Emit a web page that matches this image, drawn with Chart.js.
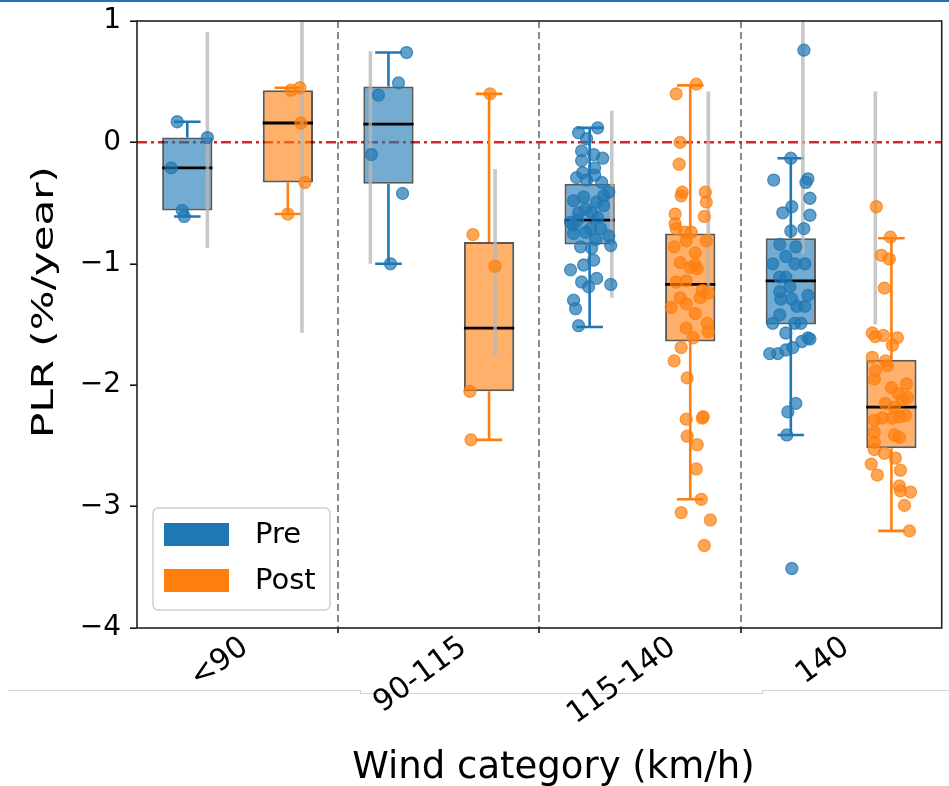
<!DOCTYPE html>
<html>
<head>
<meta charset="utf-8">
<script src="https://cdn.jsdelivr.net/npm/chart.js@4.4.1/dist/chart.umd.min.js"></script>
<style>
  html, body { margin: 0; padding: 0; background: #fff; }
  #wrap { position: relative; width: 949px; height: 786px; overflow: hidden; }
  #topline { position: absolute; left: 0; top: 0; width: 949px; height: 2px; background: #1c75bc; }
  .seam { position: absolute; background: #d4d4d4; }
  canvas { position: absolute; left: 0; top: 0; }
</style>
</head>
<body>
<div id="wrap">
  <div id="topline"></div>
  <div class="seam" style="left:8px;top:690px;width:352px;height:1px"></div>
  <div class="seam" style="left:360px;top:690px;width:1px;height:4px"></div>
  <div class="seam" style="left:360px;top:693px;width:402px;height:1px"></div>
  <div class="seam" style="left:762px;top:690px;width:1px;height:4px"></div>
  <div class="seam" style="left:762px;top:690px;width:187px;height:1px"></div>
  <canvas id="plr" width="949" height="786" style="width:949px;height:786px"></canvas>
</div>
<script>
const categories = ['<90', '90-115', '115-140', '140'];
const groups = ['Pre', 'Post'];
const yTicks = [1, 0, -1, -2, -3, -4];
const separators = [0.5, 1.5, 2.5];
const xTitle = 'Wind category (km/h)';
const yTitle = 'PLR (%/year)';

// box statistics
const preLow = [-0.61, -1.00, -1.52, -2.41];
const preQ1 = [-0.56, -0.34, -0.84, -1.50];
const preMedian = [-0.21, 0.15, -0.64, -1.14];
const preQ3 = [0.04, 0.46, -0.34, -0.79];
const preHigh = [0.17, 0.74, 0.12, -0.13];

const postLow = [-0.59, -2.45, -2.94, -3.20];
const postQ1 = [-0.33, -2.05, -1.64, -2.52];
const postMedian = [0.16, -1.53, -1.17, -2.18];
const postQ3 = [0.43, -0.82, -0.75, -1.79];
const postHigh = [0.45, 0.40, 0.47, -0.79];

// grey range bars drawn next to each box
const preRangeLow = [-0.87, -1.00, -1.28, -0.92];
const preRangeHigh = [0.91, 0.75, 0.26, 1.10];
const preRangeShift = [0.10, -0.09, 0.11, 0.06];
const postRangeLow = [-1.57, -1.76, -1.18, -1.50];
const postRangeHigh = [1.10, -0.22, 0.42, 0.42];
const postRangeShift = [0.07, 0.03, 0.09, -0.08];

// single sites, value and horizontal jitter
const preValues = [
  [0.17, 0.04, -0.21, -0.56, -0.61],
  [0.74, 0.49, 0.39, -0.10, -0.42, -1.00],
  [0.12, 0.08, 0.03, -0.07, -0.10, -0.13, -0.15, -0.21, -0.25, -0.27, -0.29, -0.33, -0.31, -0.41, -0.44,
   -0.48, -0.49, -0.52, -0.58, -0.58, -0.66, -0.68, -0.71, -0.71, -0.74, -0.75, -0.77, -0.85, -0.86, -0.87,
   -0.97, -1.01, -1.05, -1.12, -1.15, -1.17, -1.19, -1.30, -1.37, -1.51, -0.55, -0.62, -0.45, -0.80, -0.64],
  [0.76, -0.13, -0.31, -0.30, -0.33, -0.46, -0.53, -0.58, -0.60, -0.71, -0.73, -0.84, -0.86, -0.94, -1.00,
   -1.00, -1.00, -1.11, -1.11, -1.19, -1.23, -1.29, -1.29, -1.26, -1.35, -1.35, -1.42, -1.49, -1.49, -1.49,
   -1.57, -1.61, -1.74, -1.74, -1.71, -1.69, -1.64, -1.62, -2.22, -2.15, -2.41, -3.51]
];
const preJitter = [
  [-0.05, 0.10, -0.08, -0.025, -0.015],
  [0.09, 0.05, -0.05, -0.085, 0.07, 0.01],
  [0.04, -0.055, -0.015, -0.04, 0.02, 0.065, -0.04, 0.025, -0.035, 0.025, -0.065, 0.06, -0.015, 0.095, 0.07,
   -0.08, 0.035, 0.07, -0.055, 0.01, -0.095, -0.08, 0.055, 0.005, -0.02, -0.08, 0.095, 0.105, -0.045, 0.01,
   0.02, -0.03, -0.095, 0.035, -0.04, 0.105, -0.005, -0.08, -0.07, -0.055, -0.02, 0.04, -0.03, 0.03, -0.06],
  [0.065, 0, -0.085, 0.085, 0.075, 0.095, 0.005, -0.04, 0.095, 0.065, 0, -0.055, 0.025, -0.025, -0.09,
   0.02, 0.07, -0.055, -0.025, -0.005, -0.055, -0.05, 0.005, 0.085, 0.03, 0.07, -0.055, -0.09, 0.02, 0.05,
   -0.025, 0.085, -0.105, -0.065, -0.025, 0.01, 0.055, 0.095, -0.015, 0.025, -0.02, 0.005]
];
const postValues = [
  [0.43, 0.45, 0.16, -0.33, -0.59],
  [0.40, -0.76, -1.02, -2.05, -2.45],
  [0.48, 0.40, 0.00, -0.18, -0.41, -0.44, -0.41, -0.49, -0.61, -0.59, -0.67, -0.71, -0.74, -0.74, -0.81,
   -0.81, -0.86, -0.91, -0.99, -1.03, -1.01, -1.04, -1.15, -1.14, -1.22, -1.24, -1.28, -1.36, -1.33, -1.28,
   -1.41, -1.53, -1.49, -1.56, -1.61, -1.69, -1.80, -1.94, -2.28, -2.26, -2.27, -2.42, -2.49, -2.69, -2.94,
   -3.05, -3.11, -3.32],
  [-0.53, -0.78, -0.93, -0.96, -1.20, -1.57, -1.60, -1.59, -1.61, -1.67, -1.77, -1.80, -1.88, -1.84, -1.95,
   -1.99, -2.02, -2.07, -2.10, -2.15, -2.12, -2.18, -2.25, -2.29, -2.27, -2.27, -2.26, -2.39, -2.47, -2.41,
   -2.43, -2.53, -2.56, -2.60, -2.65, -2.74, -2.70, -2.83, -2.87, -2.88, -2.99, -3.20]
];
const postJitter = [
  [0.015, 0.06, 0.065, 0.085, 0],
  [0.005, -0.08, 0.03, -0.095, -0.09],
  [0.03, -0.07, -0.05, -0.055, -0.04, -0.045, 0.075, 0.08, 0.07, -0.075, -0.075, -0.07, -0.025, 0.005, -0.02,
   0.08, -0.08, 0.025, -0.05, 0, 0.025, 0.035, -0.07, -0.02, 0.06, 0.09, -0.05, -0.095, -0.02, 0.05,
   0.025, -0.02, 0.085, 0.09, 0.015, -0.045, -0.08, -0.015, -0.02, 0.065, 0.06, -0.015, 0.035, 0.03, 0.055,
   -0.045, 0.1, 0.07],
  [-0.075, -0.005, -0.05, -0.01, -0.035, -0.095, -0.08, -0.04, 0.03, 0.005, -0.095, -0.03, -0.08, -0.02, -0.085,
   0.075, 0, 0.035, 0.08, -0.03, 0.055, 0.015, 0.07, -0.085, -0.045, 0.005, 0.04, -0.085, -0.085, 0.015,
   0.04, -0.085, -0.035, 0.02, -0.1, -0.07, 0.045, 0.04, 0.045, 0.095, 0.065, 0.09]
];

const FONT = '"DejaVu Sans", "Liberation Sans", sans-serif';
const rgb = ['31,119,180', '255,127,14'];
const groupOffset = [-0.25, 0.25];
const boxHalf = 0.125;
const capHalf = 0.066;
const labelShift = -0.09;

const stats = [
  { low: preLow, q1: preQ1, med: preMedian, q3: preQ3, high: preHigh,
    rLow: preRangeLow, rHigh: preRangeHigh, rShift: preRangeShift, vals: preValues, jit: preJitter },
  { low: postLow, q1: postQ1, med: postMedian, q3: postQ3, high: postHigh,
    rLow: postRangeLow, rHigh: postRangeHigh, rShift: postRangeShift, vals: postValues, jit: postJitter }
];

const gap = x => ({ x, y: null });

const datasets = [];
stats.forEach((s, g) => {
  const pos = i => i + groupOffset[g];

  datasets.push({
    type: 'bar', label: groups[g], order: 5,
    data: categories.map((c, i) => ({ x: pos(i), y: [s.q1[i], s.q3[i]] })),
    backgroundColor: `rgba(${rgb[g]},0.62)`,
    borderColor: 'rgba(0,0,0,0.65)', borderWidth: 2, borderSkipped: false,
    grouped: false, barPercentage: 0.5, categoryPercentage: 1
  });

  const whisk = [];
  categories.forEach((c, i) => {
    const x = pos(i);
    whisk.push({ x, y: s.q3[i] }, { x, y: s.high[i] }, gap(x));
    whisk.push({ x: x - capHalf, y: s.high[i] }, { x: x + capHalf, y: s.high[i] }, gap(x));
    whisk.push({ x, y: s.q1[i] }, { x, y: s.low[i] }, gap(x));
    whisk.push({ x: x - capHalf, y: s.low[i] }, { x: x + capHalf, y: s.low[i] }, gap(x));
  });
  datasets.push({
    type: 'line', order: 4, data: whisk, borderColor: `rgb(${rgb[g]})`, borderWidth: 2.6,
    pointRadius: 0, spanGaps: false, tension: 0, fill: false
  });

  const med = [];
  categories.forEach((c, i) => {
    med.push({ x: pos(i) - boxHalf, y: s.med[i] }, { x: pos(i) + boxHalf, y: s.med[i] }, gap(pos(i)));
  });
  datasets.push({
    type: 'line', order: 3, data: med, borderColor: '#000', borderWidth: 2.8,
    pointRadius: 0, spanGaps: false, fill: false
  });

  const range = [];
  categories.forEach((c, i) => {
    const x = pos(i) + s.rShift[i];
    range.push({ x, y: s.rLow[i] }, { x, y: s.rHigh[i] }, gap(x));
  });
  datasets.push({
    type: 'line', order: 2, data: range, borderColor: 'rgba(185,185,185,0.78)', borderWidth: 3.6,
    pointRadius: 0, spanGaps: false, fill: false, clip: 0
  });

  const pts = [];
  categories.forEach((c, i) => {
    s.vals[i].forEach((v, k) => pts.push({ x: pos(i) + s.jit[i][k], y: v }));
  });
  datasets.push({
    type: 'scatter', order: 1, data: pts, pointRadius: 6, pointHoverRadius: 6,
    backgroundColor: `rgba(${rgb[g]},0.7)`, borderColor: `rgba(${rgb[g]},0.75)`, borderWidth: 1.3
  });
});

// axes frame on all four sides
const frame = {
  id: 'frame',
  afterDatasetsDraw(chart) {
    const { ctx, chartArea: a } = chart;
    ctx.save();
    ctx.strokeStyle = '#222';
    ctx.lineWidth = 1.6;
    ctx.strokeRect(a.left, a.top, a.right - a.left, a.bottom - a.top);
    ctx.restore();
  }
};

// rotated category names and the two axis titles
const axisText = {
  id: 'axisText',
  afterDraw(chart) {
    const { ctx, chartArea: a, scales: { x } } = chart;
    const size = 30, ang = 36 * Math.PI / 180;
    ctx.save();
    ctx.fillStyle = '#000';
    ctx.textAlign = 'center';
    ctx.textBaseline = 'middle';
    ctx.font = size + 'px ' + FONT;
    categories.forEach((c, i) => {
      const w = ctx.measureText(c).width;
      const h = size * 0.85;
      const cx = x.getPixelForValue(i + labelShift);
      const cy = a.bottom + 6 + (w * Math.sin(ang) + h * Math.cos(ang)) / 2;
      ctx.save();
      ctx.translate(cx, cy);
      ctx.rotate(-ang);
      ctx.fillText(c, 0, 0);
      ctx.restore();
    });

    ctx.textBaseline = 'alphabetic';
    ctx.font = '37px ' + FONT;
    ctx.fillText(xTitle, x.getPixelForValue(1.57), 778);

    // the y label of the figure is stretched along its length
    ctx.font = '30px ' + FONT;
    ctx.textBaseline = 'middle';
    ctx.translate(45, 302);
    ctx.rotate(-Math.PI / 2);
    ctx.scale(1.4, 1);
    ctx.fillText(yTitle, 0, 0);
    ctx.restore();
  }
};

// legend box in the lower left of the plot
const boxLegend = {
  id: 'boxLegend',
  afterDraw(chart) {
    const { ctx, chartArea: a } = chart;
    const left = a.left + 16, top = a.bottom - 120, w = 177, h = 102;
    ctx.save();
    ctx.beginPath();
    if (ctx.roundRect) ctx.roundRect(left, top, w, h, 5); else ctx.rect(left, top, w, h);
    ctx.fillStyle = 'rgba(255,255,255,0.8)';
    ctx.fill();
    ctx.strokeStyle = '#d0d0d0';
    ctx.lineWidth = 1.5;
    ctx.stroke();
    ctx.font = '29px ' + FONT;
    ctx.textBaseline = 'middle';
    ctx.textAlign = 'left';
    groups.forEach((g, k) => {
      const y = top + 15 + k * 46;
      ctx.fillStyle = `rgb(${rgb[k]})`;
      ctx.fillRect(left + 11, y, 65, 23);
      ctx.fillStyle = '#000';
      ctx.fillText(g, left + 102, y + 12);
    });
    ctx.restore();
  }
};

new Chart(document.getElementById('plr'), {
  type: 'bar',
  data: { datasets },
  options: {
    responsive: false,
    animation: false,
    events: [],
    layout: { padding: { top: 21, right: 4, left: 0, bottom: 0 } },
    plugins: { legend: { display: false }, tooltip: { enabled: false } },
    scales: {
      x: {
        type: 'linear', min: -0.5, max: 3.5, offset: false,
        afterBuildTicks: s => { s.ticks = separators.map(v => ({ value: v })); },
        afterFit: s => { s.height = 158; s.paddingLeft = 0; s.paddingRight = 0; },
        ticks: { display: false },
        grid: {
          offset: false, color: '#8a8a8a', lineWidth: 2,
          tickLength: 5, tickColor: '#000', tickWidth: 1.5, tickBorderDash: []
        },
        border: { display: false, dash: [7, 4] }
      },
      y: {
        min: -4, max: 1,
        afterBuildTicks: s => { s.ticks = yTicks.map(v => ({ value: v })); },
        afterFit: s => { s.width = 137; s.paddingTop = 0; s.paddingBottom = 0; },
        ticks: {
          color: '#000', font: { family: FONT, size: 28 }, padding: 9,
          callback: v => String(v).replace('-', '\u2212')
        },
        grid: {
          color: c => (c.tick && c.tick.value === 0) ? '#d62728' : 'rgba(0,0,0,0)',
          lineWidth: 2.4, tickLength: 7, tickColor: '#000', tickWidth: 1.5, tickBorderDash: []
        },
        border: { display: false, dash: [10, 4, 3, 4] }
      }
    }
  },
  plugins: [frame, axisText, boxLegend]
});
</script>
</body>
</html>
